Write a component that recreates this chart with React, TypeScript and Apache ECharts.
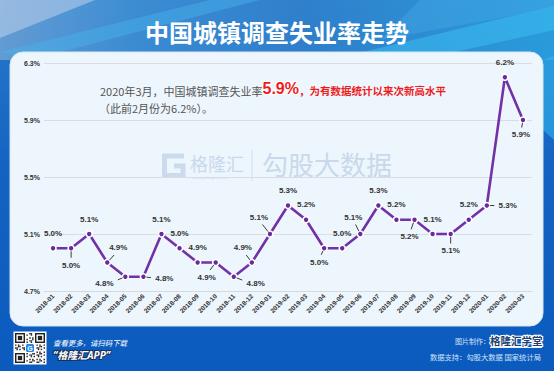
import React, { useEffect, useRef } from "react";
import * as echarts from "echarts";

const categories = [
  "2018-01", "2018-02", "2018-03", "2018-04", "2018-05", "2018-06", "2018-07", "2018-08", "2018-09",
  "2018-10", "2018-11", "2018-12", "2019-01", "2019-02", "2019-03", "2019-04", "2019-05", "2019-06",
  "2019-07", "2019-08", "2019-09", "2019-10", "2019-11", "2019-12", "2020-01", "2020-02", "2020-03",
];
const rates = [
  5.0, 5.0, 5.1, 4.9, 4.8, 4.8, 5.1, 5.0, 4.9, 4.9, 4.8, 4.9, 5.1, 5.3, 5.2, 5.0, 5.0, 5.1, 5.3, 5.2,
  5.2, 5.1, 5.1, 5.2, 5.3, 6.2, 5.9,
];
const yTicks = [4.7, 5.1, 5.5, 5.9, 6.3];

const titleText = "中国城镇调查失业率走势";
const noteLine1 = "2020年3月，中国城镇调查失业率";
const noteValue = "5.9%";
const noteTail = "，为有数据统计以来次新高水平";
const noteLine2 = "（此前2月份为6.2%）。";

const CJK = '"Noto Sans CJK SC", "Noto Sans", sans-serif';
const LAT = '"Liberation Sans", Arial, sans-serif';

// label placement per point: [position, dx, dy, leaderLine]
const labelPlace: [string, number, number, boolean][] = [
  ["top", 0, 0, false],
  ["bottom", 0, 2, true],
  ["top", 0, 0, false],
  ["top", 11, 0, true],
  ["left", -1, 7, true],
  ["right", 1, 2, true],
  ["top", 0, 0, false],
  ["top", 0, 0, false],
  ["top", 0, 0, false],
  ["bottom", -9, 0, true],
  ["right", 2, 7, true],
  ["top", -9, 0, true],
  ["top", -11, -2, true],
  ["top", 0, 0, false],
  ["top", 0, 0, false],
  ["bottom", -5, -1, true],
  ["top", 0, 0, false],
  ["top", -7, -2, true],
  ["top", 0, 0, false],
  ["top", 0, 0, false],
  ["bottom", -5, 2, true],
  ["top", 0, 0, false],
  ["bottom", 0, 2, true],
  ["top", 0, 0, false],
  ["right", 1, 0, true],
  ["top", 0, 0, false],
  ["bottom", -2, 0, true],
];
const LABEL_DIST = 7;
const baseOffset: Record<string, [number, number]> = {
  top: [0, -(LABEL_DIST + 5)],
  bottom: [0, LABEL_DIST + 5],
  left: [-(LABEL_DIST + 9), 0],
  right: [LABEL_DIST + 9, 0],
};

function qrElements(x0: number, y0: number, size: number) {
  const n = 21;
  const m = size / n;
  const els: any[] = [
    { type: "rect", shape: { x: x0 - 1.5, y: y0 - 1.5, width: size + 3, height: size + 3 }, style: { fill: "#ffffff" } },
  ];
  const isFinder = (i: number, j: number) =>
    (i < 8 && j < 8) || (i > n - 9 && j < 8) || (i < 8 && j > n - 9);
  for (let i = 0; i < n; i++) {
    for (let j = 0; j < n; j++) {
      if (isFinder(i, j)) continue;
      if ((i * 31 + j * 17 + i * j * 7) % 5 < 2) {
        els.push({ type: "rect", shape: { x: x0 + i * m, y: y0 + j * m, width: m, height: m }, style: { fill: "#222" } });
      }
    }
  }
  const finder = (fi: number, fj: number) => {
    els.push({ type: "rect", shape: { x: x0 + fi * m, y: y0 + fj * m, width: 7 * m, height: 7 * m }, style: { fill: "#222" } });
    els.push({ type: "rect", shape: { x: x0 + (fi + 1) * m, y: y0 + (fj + 1) * m, width: 5 * m, height: 5 * m }, style: { fill: "#fff" } });
    els.push({ type: "rect", shape: { x: x0 + (fi + 2) * m, y: y0 + (fj + 2) * m, width: 3 * m, height: 3 * m }, style: { fill: "#222" } });
  };
  finder(0, 0);
  finder(n - 7, 0);
  finder(0, n - 7);
  els.push({ type: "rect", shape: { x: x0 + size / 2 - 5, y: y0 + size / 2 - 5, width: 10, height: 10, r: 1.5 }, style: { fill: "#fff" } });
  els.push({ type: "rect", shape: { x: x0 + size / 2 - 4, y: y0 + size / 2 - 4, width: 8, height: 8, r: 1.5 }, style: { fill: "#2586e6" } });
  els.push({
    type: "text",
    style: { text: "G", x: x0 + size / 2, y: y0 + size / 2 + 0.5, align: "center", verticalAlign: "middle", fill: "#fff", font: `bold 7px ${LAT}` },
  });
  return els;
}

export default function App() {
  const ref = useRef<HTMLDivElement>(null);

  useEffect(() => {
    document.body.style.margin = "0";
    const chart = echarts.init(ref.current!, undefined, { renderer: "svg" });

    const seriesData = rates.map((v, i) => ({
      value: v,
      label: { position: labelPlace[i][0] as any },
    }));

    const leaderData = rates.map((v, i) => [i, v]);

    const renderLeader = (params: any, api: any) => {
      const i = params.dataIndex;
      const lp = labelPlace[i];
      if (!lp[3]) return { type: "group", children: [] };
      const p = api.coord([api.value(0), api.value(1)]);
      const bo = baseOffset[lp[0]];
      const cx = p[0] + bo[0] + lp[1];
      const cy = p[1] + bo[1] + lp[2];
      const vx = p[0] - cx;
      const vy = p[1] - cy;
      const len = Math.sqrt(vx * vx + vy * vy) || 1;
      const hw = 9.5;
      const hh = 4.5;
      const s = Math.min(vx !== 0 ? hw / Math.abs(vx) : Infinity, vy !== 0 ? hh / Math.abs(vy) : Infinity);
      const ex = cx + vx * s;
      const ey = cy + vy * s;
      const sx = p[0] - (vx / len) * 3;
      const sy = p[1] - (vy / len) * 3;
      return {
        type: "line",
        z2: 100,
        shape: { x1: sx, y1: sy, x2: ex, y2: ey },
        style: { stroke: "#262626", lineWidth: 0.9 },
      };
    };

    const option: any = {
      animation: false,
      backgroundColor: "transparent",
      graphic: [
        {
          type: "rect",
          z: -30,
          shape: { x: 0, y: 0, width: 554, height: 371 },
          style: {
            fill: new echarts.graphic.LinearGradient(0, 0, 0, 1, [
              { offset: 0, color: "#3588d2" },
              { offset: 0.15, color: "#2173c9" },
              { offset: 0.45, color: "#1463c2" },
              { offset: 1, color: "#0b5bbf" },
            ]),
          },
        },
        {
          type: "rect",
          z: -29,
          shape: { x: 0, y: 0, width: 554, height: 60 },
          style: {
            fill: new echarts.graphic.LinearGradient(0, 0, 1, 0, [
              { offset: 0, color: "#6a9fd4" },
              { offset: 0.25, color: "#3c8dd3" },
              { offset: 0.55, color: "#2f7fcb" },
              { offset: 1, color: "#2a9fdc" },
            ]),
            opacity: 0.9,
          },
        },
        { type: "polygon", z: -28, shape: { points: [[0, 0], [95, 0], [0, 38]] }, style: { fill: "rgba(190,210,235,0.55)" } },
        { type: "polygon", z: -28, shape: { points: [[0, 52], [210, 0], [260, 0], [30, 60]] }, style: { fill: "rgba(70,180,235,0.45)" } },
        { type: "polygon", z: -28, shape: { points: [[330, 60], [554, 6], [554, 30], [420, 60]] }, style: { fill: "rgba(60,190,240,0.55)" } },
        { type: "polygon", z: -28, shape: { points: [[420, 0], [554, 0], [554, 8], [380, 40]] }, style: { fill: "rgba(70,170,230,0.4)" } },
        { type: "polygon", z: -28, shape: { points: [[543, 60], [554, 55], [554, 140], [543, 130]] }, style: { fill: "rgba(50,180,235,0.6)" } },
        {
          type: "rect",
          z: -27,
          shape: { x: 10, y: 52, width: 533, height: 274, r: 13 },
          style: { fill: "#eef6fd", stroke: "#d6e6f7", lineWidth: 1 },
        },
        {
          type: "text",
          z: 5,
          style: {
            text: titleText,
            x: 277,
            y: 31,
            align: "center",
            verticalAlign: "middle",
            fill: "#ffffff",
            font: `bold 24px ${CJK}`,
            shadowColor: "rgba(10,40,100,0.75)",
            shadowBlur: 3,
            shadowOffsetX: 1.5,
            shadowOffsetY: 2,
          },
        },
        // watermark
        {
          type: "polyline",
          z: -26,
          shape: { points: [[184, 156], [164.5, 156], [164.5, 175.5], [183, 175.5], [183, 166], [174, 166]] },
          style: { stroke: "#cbdaed", lineWidth: 5, fill: null },
        },
        { type: "text", z: -26, style: { text: "格隆汇", x: 190, y: 163, verticalAlign: "middle", fill: "#c9d8eb", font: `18px ${CJK}` } },
        { type: "text", z: -26, style: { text: "www.gelonghui.com", x: 192, y: 177, verticalAlign: "middle", fill: "#c9d8eb", font: `4px ${LAT}` } },
        { type: "line", z: -26, shape: { x1: 252, y1: 150, x2: 252, y2: 181 }, style: { stroke: "#d2deec", lineWidth: 1 } },
        { type: "text", z: -26, style: { text: "勾股大数据", x: 262, y: 163, verticalAlign: "middle", fill: "#c9d8eb", font: `26px ${CJK}` } },
        // annotation
        {
          type: "text",
          z: 5,
          style: {
            text: `{a|${noteLine1}}{b|${noteValue}}{c|${noteTail}}`,
            x: 100,
            y: 88,
            verticalAlign: "middle",
            rich: {
              a: { fill: "#555555", font: `11px ${CJK}`, verticalAlign: "bottom" },
              b: { fill: "#ee1c1c", font: `bold 16px ${LAT}`, stroke: "#ffffff", lineWidth: 2, verticalAlign: "bottom" },
              c: { fill: "#ee1c1c", font: `bold 10.5px ${CJK}`, verticalAlign: "bottom" },
            },
          },
        },
        {
          type: "text",
          z: 5,
          style: { text: noteLine2, x: 99, y: 108, verticalAlign: "middle", fill: "#555555", font: `11px ${CJK}` },
        },
        // footer
        { type: "group", z: 5, children: qrElements(15, 333, 30) },
        {
          type: "text",
          z: 5,
          style: { text: "查看更多，请扫码下载", x: 53, y: 342, verticalAlign: "middle", fill: "#ffffff", font: `italic 7.4px ${CJK}` },
        },
        {
          type: "text",
          z: 5,
          style: {
            text: "“格隆汇APP”",
            x: 53,
            y: 355,
            verticalAlign: "middle",
            fill: "#ffffff",
            stroke: "#1a2f55",
            lineWidth: 2,
            font: `italic bold 10px "Noto Sans", "Noto Sans CJK SC", sans-serif`,
          },
        },
        {
          type: "text",
          z: 5,
          style: { text: "图片制作：", x: 455, y: 341, verticalAlign: "middle", fill: "#d3e3f6", font: `7px ${CJK}` },
        },
        {
          type: "text",
          z: 5,
          style: {
            text: "格隆汇学堂",
            x: 490,
            y: 340,
            verticalAlign: "middle",
            fill: "#1d3f70",
            stroke: "#ffffff",
            lineWidth: 2.2,
            font: `bold 10.5px ${CJK}`,
          },
        },
        { type: "line", z: 5, shape: { x1: 490, y1: 347.5, x2: 542, y2: 347.5 }, style: { stroke: "#e8f0fa", lineWidth: 1 } },
        {
          type: "text",
          z: 5,
          style: { text: "数据支持：勾股大数据 国家统计局", x: 541, y: 357, align: "right", verticalAlign: "middle", fill: "#d3e3f6", font: `7.3px ${CJK}` },
        },
      ],
      grid: { left: 44, right: 22, top: 63, bottom: 80, containLabel: false },
      xAxis: {
        type: "category",
        data: categories,
        boundaryGap: true,
        axisLine: { show: true, lineStyle: { color: "#d8d8e0", width: 1 } },
        axisTick: { show: false },
        axisLabel: {
          rotate: 45,
          interval: 0,
          margin: 4,
          fontSize: 6.5,
          fontWeight: "bold",
          color: "#333333",
          fontFamily: LAT,
        },
      },
      yAxis: {
        type: "value",
        min: 4.7,
        max: 6.3,
        axisLine: { show: false },
        axisTick: { show: false, customValues: yTicks },
        splitLine: { show: true, lineStyle: { color: "#dcdbe4", width: 1 } },
        axisLabel: {
          customValues: yTicks,
          margin: 4,
          fontSize: 7,
          fontWeight: "bold",
          color: "#333333",
          fontFamily: LAT,
          formatter: (v: number) => v.toFixed(1) + "%",
        },
      },
      series: [
        {
          type: "line",
          data: seriesData,
          showAllSymbol: true,
          symbol: "circle",
          symbolSize: 6,
          lineStyle: { color: "#7232a6", width: 2.6 },
          itemStyle: { color: "#6a2a9e", borderColor: "#ffffff", borderWidth: 1.6 },
          label: {
            show: true,
            distance: LABEL_DIST,
            fontSize: 8,
            fontWeight: "bold",
            color: "#333333",
            fontFamily: LAT,
            formatter: (p: any) => Number(p.value).toFixed(1) + "%",
          },
          labelLayout: (params: any) => ({
            dx: labelPlace[params.dataIndex][1],
            dy: labelPlace[params.dataIndex][2],
          }),
          z: 3,
        },
        {
          type: "custom",
          coordinateSystem: "cartesian2d",
          data: leaderData,
          renderItem: renderLeader,
          silent: true,
          z: 4,
        },
      ],
    };

    chart.setOption(option);
    return () => {
      chart.dispose();
    };
  }, []);

  return <div ref={ref} style={{ position: "absolute", left: 0, top: 0, width: 554, height: 371 }} />;
}
